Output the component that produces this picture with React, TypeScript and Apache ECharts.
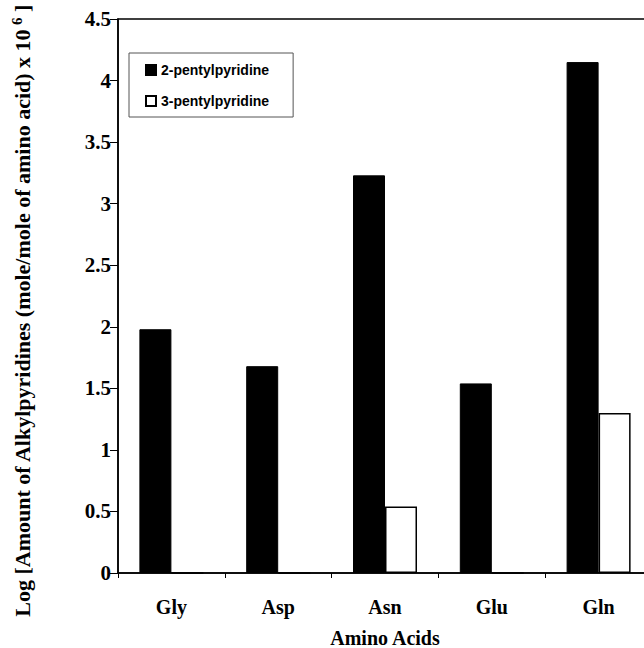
import React, { useEffect, useRef } from "react";
import * as echarts from "echarts";

const categories = ["Gly", "Asp", "Asn", "Glu", "Gln"];
const series2Name = "2-pentylpyridine";
const series3Name = "3-pentylpyridine";
const values2 = [1.98, 1.68, 3.23, 1.54, 4.15];
const values3 = [0, 0, 0.54, 0, 1.3];
const yTicks = { min: 0, max: 4.5, interval: 0.5 };

const serif = "'Liberation Serif', 'Times New Roman', serif";
const sans = "'Liberation Sans', Arial, sans-serif";

export default function App() {
  const ref = useRef<HTMLDivElement>(null);
  useEffect(() => {
    if (!ref.current) return;
    const chart = echarts.init(ref.current, undefined, { renderer: "svg" });
    chart.setOption({
      animation: false,
      backgroundColor: "#ffffff",
      grid: {
        left: 118,
        top: 19,
        width: 534,
        height: 554,
        show: true,
        borderColor: "#000",
        borderWidth: 1.5,
        backgroundColor: "transparent",
        outerBoundsMode: "none",
        containLabel: false,
      },
      legend: {
        orient: "vertical",
        left: 129,
        top: 53,
        data: [series2Name, series3Name],
        itemWidth: 10,
        itemHeight: 10,
        itemGap: 17,
        icon: "rect",
        padding: [10, 24, 9, 16],
        borderColor: "#555",
        borderWidth: 1,
        textStyle: {
          fontFamily: sans,
          fontWeight: "bold",
          fontSize: 14,
          color: "#000",
        },
      },
      xAxis: {
        type: "category",
        data: categories,
        name: "Amino Acids",
        nameLocation: "middle",
        nameGap: 55,
        nameTextStyle: {
          fontFamily: serif,
          fontWeight: "bold",
          fontSize: 20,
          color: "#000",
        },
        axisLine: { lineStyle: { color: "#000", width: 1.5 } },
        axisTick: { show: true, length: 5, lineStyle: { color: "#000" } },
        axisLabel: {
          margin: 24,
          fontFamily: serif,
          fontWeight: "bold",
          fontSize: 20,
          color: "#000",
        },
      },
      yAxis: {
        type: "value",
        min: yTicks.min,
        max: yTicks.max,
        interval: yTicks.interval,
        splitLine: { show: false },
        axisLine: { show: true, lineStyle: { color: "#000", width: 1.5 } },
        axisTick: { show: true, length: 8, lineStyle: { color: "#000" } },
        axisLabel: {
          margin: 7,
          fontFamily: serif,
          fontWeight: "bold",
          fontSize: 21,
          color: "#000",
        },
      },
      series: [
        {
          name: series2Name,
          type: "bar",
          data: values2,
          barWidth: 32,
          barGap: "0%",
          itemStyle: { color: "#000", borderColor: "#000", borderWidth: 1 },
        },
        {
          name: series3Name,
          type: "bar",
          data: values3,
          barWidth: 32,
          barGap: "0%",
          itemStyle: { color: "#fff", borderColor: "#000", borderWidth: 1.5 },
        },
      ],
      graphic: [
        {
          type: "text",
          x: 22,
          y: 311,
          rotation: Math.PI / 2,
          style: {
            text: "{a|Log [Amount of Alkylpyridines (mole/mole of amino acid) x 10}{s| 6}{a| ]}",
            align: "center",
            verticalAlign: "middle",
            rich: {
              a: {
                fontFamily: serif,
                fontWeight: "bold",
                fontSize: 22,
                fill: "#000",
                color: "#000",
              },
              s: {
                fontFamily: serif,
                fontWeight: "bold",
                fontSize: 15,
                fill: "#000",
                color: "#000",
                verticalAlign: "top",
                padding: [0, 0, 10, 0],
              },
            },
          },
        },
      ],
    });
    return () => chart.dispose();
  }, []);
  return (
    <div
      ref={ref}
      style={{ position: "absolute", left: 0, top: 0, width: 644, height: 648, overflow: "hidden" }}
    />
  );
}
